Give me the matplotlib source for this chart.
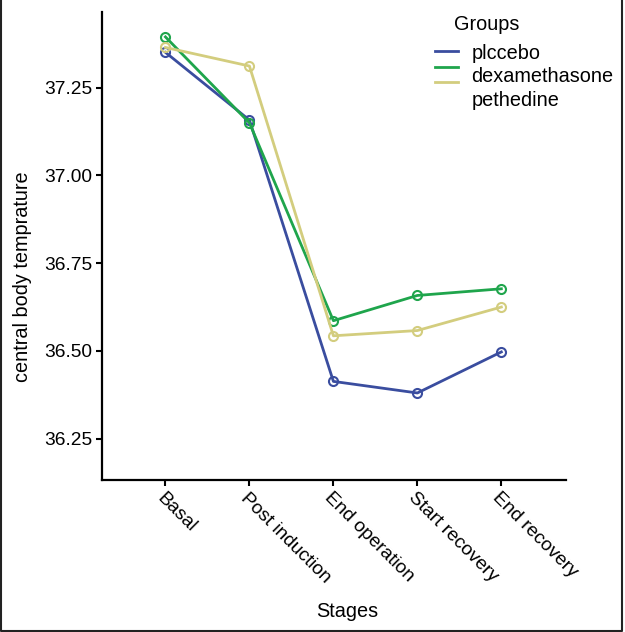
import matplotlib
matplotlib.use("Agg")
import matplotlib.pyplot as plt
from matplotlib.lines import Line2D

plt.rcParams['font.family'] = ['Liberation Sans', 'DejaVu Sans']

stages = ["Basal", "Post induction", "End operation", "Start recovery", "End recovery"]
placebo = [37.351, 37.158, 36.413, 36.380, 36.497]
dexamethasone = [37.395, 37.150, 36.586, 36.658, 36.677]
pethedine = [37.365, 37.312, 36.543, 36.558, 36.625]
group_names = ["plccebo", "dexamethasone", "pethedine"]
yticks = [36.25, 36.50, 36.75, 37.00, 37.25]

series = [placebo, dexamethasone, pethedine]
colors = ["#3a4d9f", "#1fa54c", "#d3cd7e"]

fig = plt.figure(figsize=(6.25, 6.32), dpi=100)
ax = fig.add_axes([0.1626, 0.2411, 0.9056 - 0.1626, 0.981 - 0.2411])

x = list(range(len(stages)))
for vals, c in zip(series, colors):
    ax.plot(x, vals, color=c, lw=2.0, marker='o', markersize=6.5,
            markerfacecolor='none', markeredgecolor=c, markeredgewidth=1.5)

ax.set_xlim(-0.76, 4.77)
ax.set_ylim(36.133, 37.466)
ax.set_xticks(x)
ax.set_xticklabels(stages, rotation=-45, ha='left', va='top', rotation_mode='anchor', fontsize=13.8)
ax.set_yticks(yticks)
ax.set_yticklabels([f"{v:.2f}" for v in yticks], fontsize=13.8)
ax.tick_params(axis='both', length=4, width=1.5, color='black', pad=3)
for s in ['top', 'right']:
    ax.spines[s].set_visible(False)
for s in ['left', 'bottom']:
    ax.spines[s].set_linewidth(1.6)
ax.set_ylabel("central body temprature", fontsize=14.3)
ax.set_xlabel("Stages", fontsize=14.3)
axw = 566 - 101.6
axh = 479.6 - 12.1
ax.yaxis.set_label_coords((32 - 101.6) / axw, (479.6 - 276.5) / axh)
ax.xaxis.set_label_coords((347 - 101.6) / axw, -(602 - 479.6) / axh)

W, H = 625.0, 632.0
def fx(px):
    return px / W
def fy(py):
    return 1 - py / H

fig.text(fx(454), fy(25), "Groups", fontsize=14.3, va='center', ha='left')
text_y = [53.2, 76.6, 100.0]
line_y = [51.2, 66.5, 81.8]
for name, c, ty, ly in zip(group_names, colors, text_y, line_y):
    fig.text(fx(471.5), fy(ty), name, fontsize=14.3, va='center', ha='left')
    fig.add_artist(Line2D([fx(435), fx(458)], [fy(ly), fy(ly)], color=c, lw=2.0,
                          transform=fig.transFigure))

fig.add_artist(Line2D([fx(1), fx(1), fx(621.7), fx(621.7)],
                      [fy(0), fy(630.5), fy(630.5), fy(0)],
                      transform=fig.transFigure, color='#222222', lw=1.5))

fig.savefig("out.png", dpi=100)
